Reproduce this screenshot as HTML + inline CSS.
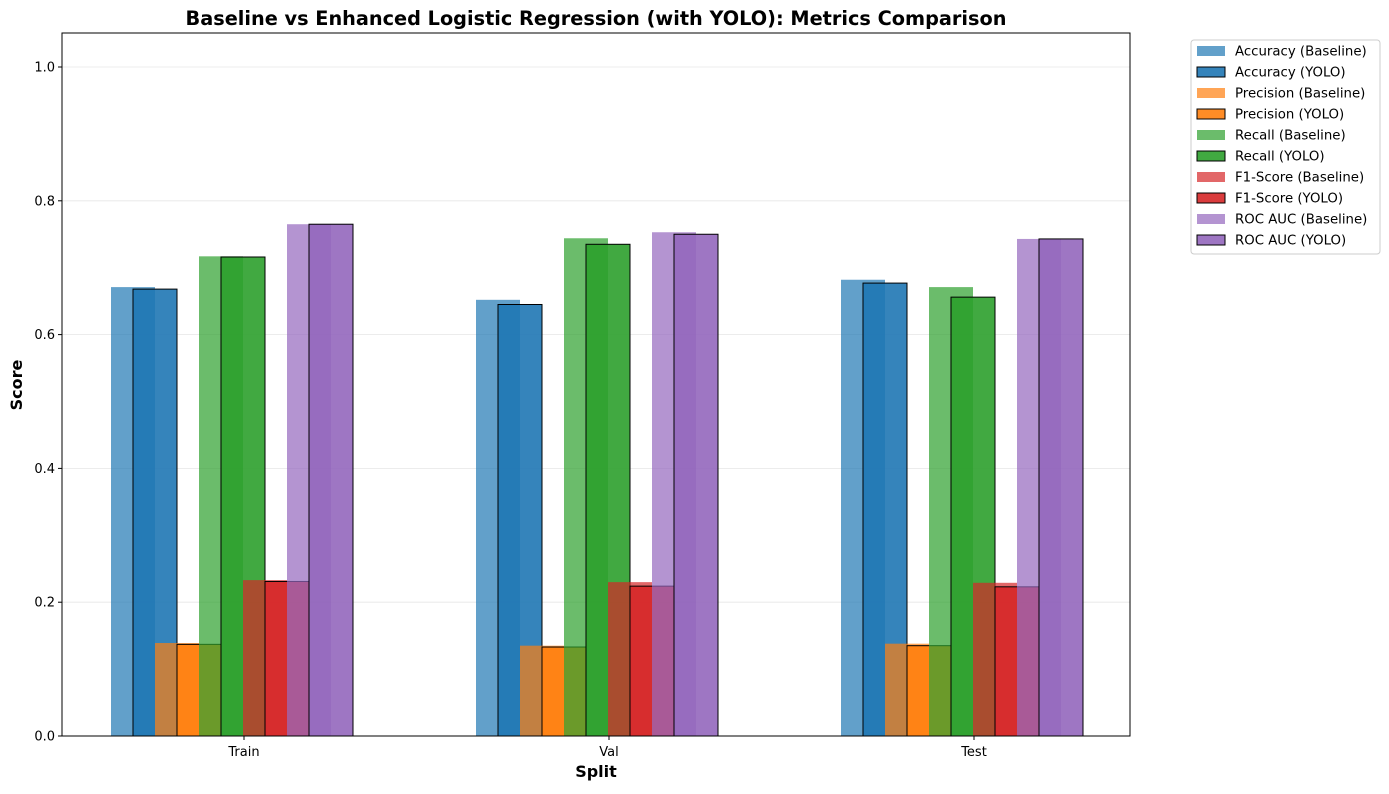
<!DOCTYPE html>
<html><head><meta charset="utf-8"><style>
body{margin:0;background:#fff;font-family:"DejaVu Sans","Liberation Sans",sans-serif}
svg text{font-family:"DejaVu Sans","Liberation Sans",sans-serif}
</style></head><body>
<svg id="chart" width="1389" height="790" xmlns="http://www.w3.org/2000/svg">
<rect width="1389" height="790" fill="#fff"/>
<g id="grid"></g><g id="bars"></g><g id="axes"></g><g id="legend"></g>
</svg>
<script>
const splits=["Train","Val","Test"];
const metrics=["Accuracy","Precision","Recall","F1-Score","ROC AUC"];
const colors=["#1f77b4","#ff7f0e","#2ca02c","#d62728","#9467bd"];
const baselineVals=[[0.671,0.652,0.682],[0.139,0.135,0.138],[0.717,0.744,0.671],[0.233,0.230,0.229],[0.765,0.753,0.743]];
const yoloVals=[[0.668,0.645,0.677],[0.137,0.133,0.135],[0.716,0.735,0.656],[0.231,0.224,0.223],[0.765,0.750,0.743]];
const yTicks=[0.0,0.2,0.4,0.6,0.8,1.0];
const NS="http://www.w3.org/2000/svg";
const L=62,R=1130,T=33,B=736;
const xs=i=>244+i*365;
const ys=v=>B-v*669;
const bw=44;
function mk(tag,attrs,parent,txt){const e=document.createElementNS(NS,tag);for(const k in attrs)e.setAttribute(k,attrs[k]);if(txt!==undefined)e.textContent=txt;parent.appendChild(e);return e;}
const grid=document.getElementById('grid'),bars=document.getElementById('bars'),axes=document.getElementById('axes'),leg=document.getElementById('legend');
yTicks.forEach(t=>{
 if(t>0){const g=mk('line',{x1:L,x2:R,y1:ys(t),y2:ys(t),stroke:'#e6e6e6','stroke-width':0.8},grid);
 
 }
 mk('line',{x1:L-4,x2:L,y1:ys(t),y2:ys(t),stroke:'#000'},axes);
 const tl=mk('text',{x:L-7,y:ys(t)+4.5,'text-anchor':'end','font-size':13},axes,t.toFixed(1));
 
 
});
splits.forEach((s,j)=>{
 metrics.forEach((m,i)=>{
  const bc=xs(j)-111+i*bw;
  const r1=mk('rect',{x:bc-bw/2,y:ys(baselineVals[i][j]),width:bw,height:B-ys(baselineVals[i][j]),fill:colors[i],'fill-opacity':0.7},bars);
  
  
  const yc=bc+22;
  const r2=mk('rect',{x:yc-bw/2,y:ys(yoloVals[i][j]),width:bw,height:B-ys(yoloVals[i][j]),fill:colors[i],'fill-opacity':0.9,stroke:'#000','stroke-width':1},bars);
  
  
 });
 mk('line',{x1:xs(j),x2:xs(j),y1:B,y2:B+4,stroke:'#000'},axes);
 const xl=mk('text',{x:xs(j),y:B+20,'text-anchor':'middle','font-size':13},axes,s);
 
 
});
const frame=mk('rect',{x:L,y:T,width:R-L,height:B-T,fill:'none',stroke:'#000','stroke-width':1},axes);


const title=mk('text',{x:596,y:25,'text-anchor':'middle','font-size':19.3,'font-weight':'bold'},axes,'Baseline vs Enhanced Logistic Regression (with YOLO): Metrics Comparison');


const xt=mk('text',{x:596,y:777,'text-anchor':'middle','font-size':16,'font-weight':'bold'},axes,'Split');


const yt=mk('text',{x:22,y:385,'text-anchor':'middle','font-size':16,'font-weight':'bold',transform:'rotate(-90 22 385)'},axes,'Score');


const lb=mk('rect',{x:1191,y:40,width:189,height:214,rx:3,fill:'#fff',stroke:'#ccc'},leg);


let k=0;
metrics.forEach((m,i)=>{
 ['Baseline','YOLO'].forEach(v=>{
  const y=51+k*21;
  const p=mk('rect',{x:1197,y:y-5,width:28,height:10,fill:colors[i],'fill-opacity':v==='YOLO'?0.9:0.7,stroke:v==='YOLO'?'#000':'none'},leg);
  
  
  const t=mk('text',{x:1235,y:y+4.5,'font-size':13.3},leg,m+' ('+v+')');
  
  
  k++;
 });
});
</script>
</body></html>
